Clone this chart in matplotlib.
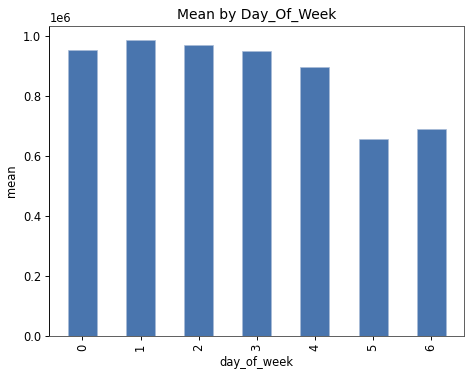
import matplotlib
matplotlib.use("Agg")
import matplotlib.pyplot as plt
import numpy as np
import pandas as pd

days = [0, 1, 2, 3, 4, 5, 6]
mean_vals = [955500, 985600, 969000, 952000, 896500, 658000, 690500]

s = pd.Series(mean_vals, index=pd.Index(days, name="day_of_week"))

DPI = 83
fig = plt.figure(figsize=(473 / DPI, 373 / DPI), dpi=DPI)
ax = fig.add_axes([0.1042, 0.0992, 0.8774, 0.8319])
s.plot(kind="bar", ax=ax, color="#4975ae", edgecolor="#a8bbd6", linewidth=0.6)
ax.set_xlim(-0.57, 6.57)
ax.set_title("Mean by Day_Of_Week")
ax.set_ylabel("mean")
ax.set_xlabel("day_of_week")
for side in ("top", "right", "bottom"):
    ax.spines[side].set_color("#555555")
fig.savefig("out.png", dpi=DPI)
